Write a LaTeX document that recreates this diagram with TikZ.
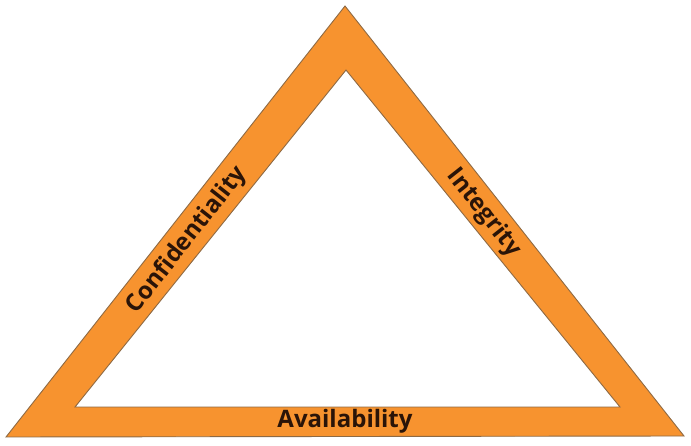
\documentclass[tikz,border=0pt]{standalone}
\usepackage{fontspec}
\setmainfont{Open Sans}
\definecolor{bandfill}{HTML}{F7932F}
\definecolor{bandedge}{HTML}{8E6A44}
\definecolor{labeltext}{HTML}{2A1408}
\begin{document}
\begin{tikzpicture}[x=1pt,y=-1pt,
  band/.style={fill=bandfill,draw=bandedge,line width=0.9pt,line join=miter,even odd rule},
  sidelabel/.style={font=\bfseries\fontsize{24}{27}\selectfont,text=labeltext,inner sep=0pt}]
\useasboundingbox (0,0) rectangle (691,446);
% outer and inner corners of the triangular band
\coordinate (top) at (345,6);
\coordinate (bl) at (6,437);
\coordinate (br) at (684,436);
\coordinate (itop) at (346,70);
\coordinate (ibl) at (75,407);
\coordinate (ibr) at (620,407);
\path[band] (top) -- (br) -- (bl) -- cycle (itop) -- (ibl) -- (ibr) -- cycle;
% labels along the three sides
\node[sidelabel,rotate=51.8] (conf) at (187,240) {Confidentiality};
\node[sidelabel,rotate=-51.7] (integ) at (484,213) {Integrity};
\node[sidelabel] (avail) at (345,421) {Availability};
\end{tikzpicture}
\end{document}
